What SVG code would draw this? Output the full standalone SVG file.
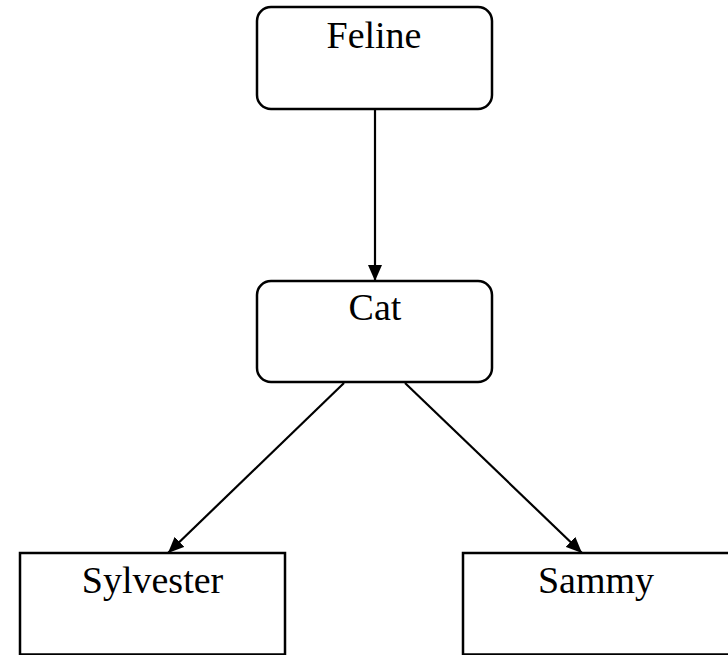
<svg xmlns="http://www.w3.org/2000/svg" width="728" height="655" viewBox="0 0 728 655">
  <style>
    .box { fill: #ffffff; stroke: #000000; stroke-width: 2.5; }
    .label { font-family: "Liberation Serif", "Times New Roman", serif; font-size: 38px; fill: #000000; text-anchor: middle; }
    .edge { stroke: #000000; stroke-width: 2.2; fill: none; marker-end: url(#arrow); }
  </style>
  <defs>
    <marker id="arrow" viewBox="0 0 16 14" refX="16" refY="7" markerWidth="16" markerHeight="14" markerUnits="userSpaceOnUse" orient="auto">
      <path d="M0,0 L16,7 L0,14 Z" fill="#000000"/>
    </marker>
  </defs>
  <rect width="728" height="655" fill="#ffffff"/>

  <g id="connectors">
    <line class="edge" x1="375" y1="110" x2="375" y2="281"/>
    <line class="edge" x1="344" y1="383" x2="168" y2="553"/>
    <line class="edge" x1="405" y1="383" x2="582" y2="553"/>
  </g>

  <g id="feline">
    <rect class="box" x="257" y="7" width="235" height="102" rx="14" ry="14"/>
    <text class="label" x="374" y="48">Feline</text>
  </g>

  <g id="cat">
    <rect class="box" x="257" y="281" width="235" height="101" rx="14" ry="14"/>
    <text class="label" x="375" y="320">Cat</text>
  </g>

  <g id="sylvester">
    <rect class="box" x="20" y="553" width="265" height="101.5"/>
    <text class="label" x="152.5" y="593">Sylvester</text>
  </g>

  <g id="sammy">
    <rect class="box" x="463" y="553" width="275" height="101.5"/>
    <text class="label" x="596" y="593">Sammy</text>
  </g>
</svg>
